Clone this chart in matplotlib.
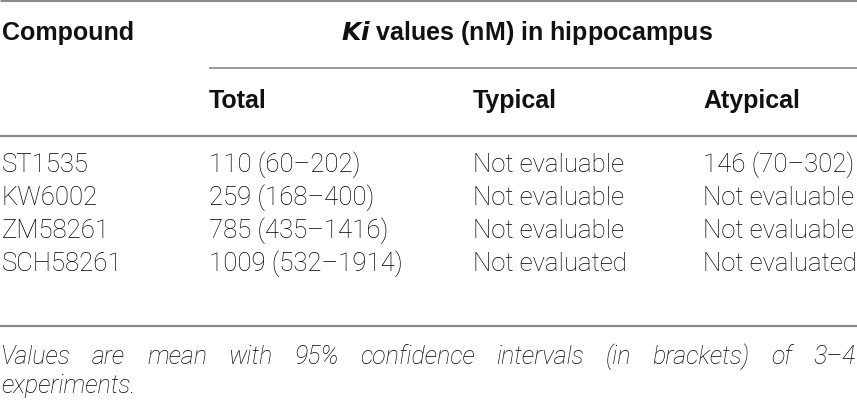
import matplotlib
matplotlib.use("Agg")
import matplotlib.pyplot as plt

compounds = ["ST1535", "KW6002", "ZM58261", "SCH58261"]
total = ["110 (60–202)", "259 (168–400)", "785 (435–1416)", "1009 (532–1914)"]
typical = ["Not evaluable", "Not evaluable", "Not evaluable", "Not evaluated"]
atypical = ["146 (70–302)", "Not evaluable", "Not evaluable", "Not evaluated"]
sub_headers = ["Total", "Typical", "Atypical"]
footnote = ["Values are mean with 95% confidence intervals (in brackets) of 3–4",
            "experiments."]

W, H = 857, 406
fig = plt.figure(figsize=(W / 100, H / 100), dpi=100)
ax = fig.add_axes([0, 0, 1, 1])
ax.set_xlim(0, W)
ax.set_ylim(H, 0)
ax.axis("off")

body = dict(family="Roboto", weight="light", fontsize=18.5, color="#000000", va="center")
head = dict(family="Liberation Sans", weight="bold", fontsize=18, color="#111111", va="center")
rule = "#8a8a8a"

col_x = [2, 209, 473, 703]
row_y = [165, 198, 231, 264]

# rules
ax.plot([0, W], [1, 1], color=rule, lw=2.2, solid_capstyle="butt")
ax.plot([209, W], [69, 69], color=rule, lw=1.2, solid_capstyle="butt")
ax.plot([0, W], [137, 137], color=rule, lw=1.6, solid_capstyle="butt")
ax.plot([0, W], [327, 327], color=rule, lw=1.6, solid_capstyle="butt")

# headers
ax.text(col_x[0], 33, "Compound", **head)
ax.text(527, 33, r"$\mathbfit{Ki}$ values (nM) in hippocampus", ha="center", **head)
for x, s in zip(col_x[1:], sub_headers):
    ax.text(x, 101, s, **head)

# body rows
for i, y in enumerate(row_y):
    for x, col in zip(col_x, [compounds, total, typical, atypical]):
        ax.text(x, y, col[i], **body)

# footnote, first line justified
foot = dict(family="Roboto", weight="light", style="italic", fontsize=18,
            color="#000000", va="center")
r = fig.canvas.get_renderer()
words = footnote[0].split()
txts = [ax.text(0, 357, w, **foot) for w in words]
widths = [t.get_window_extent(r).width for t in txts]
gap = (W - 2 - sum(widths)) / (len(words) - 1)
x = 1
for t, w in zip(txts, widths):
    t.set_x(x)
    x += w + gap
ax.text(1, 386, footnote[1], **foot)

fig.savefig("out.png", dpi=100)
